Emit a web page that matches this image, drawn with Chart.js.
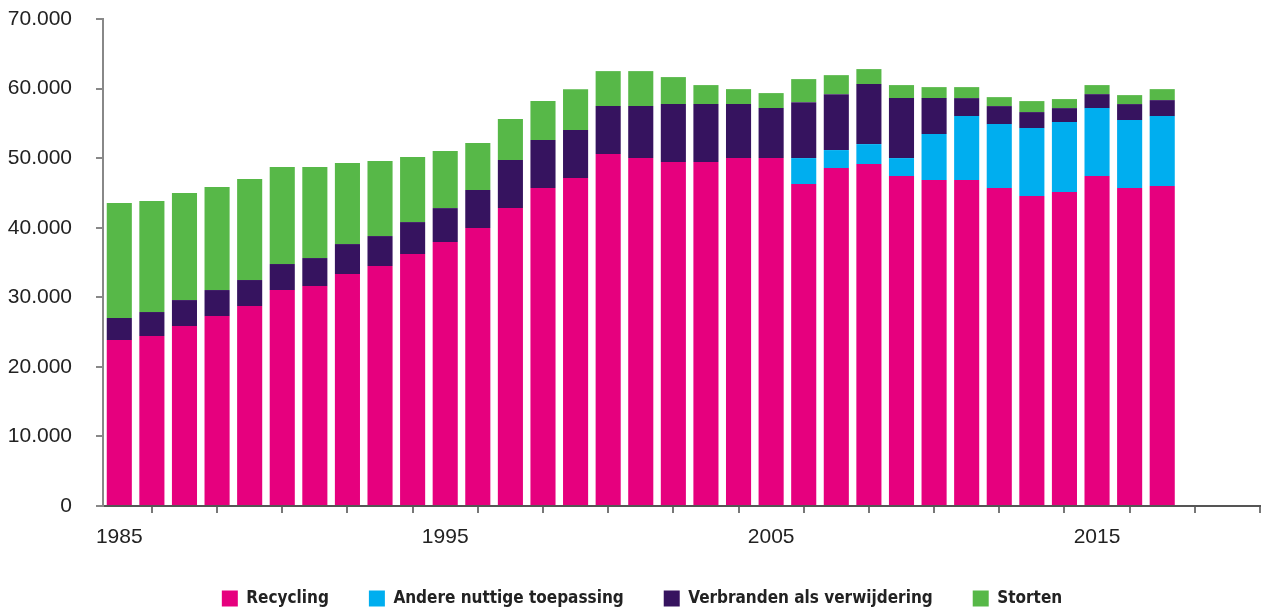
<!DOCTYPE html>
<html>
<head>
<meta charset="utf-8">
<script src="https://cdn.jsdelivr.net/npm/chart.js@4"></script>
<style>
  html, body { margin: 0; padding: 0; background: #fff; }
  #wrap { width: 1271px; height: 610px; }
</style>
</head>
<body>
<div id="wrap"><canvas id="afval"></canvas></div>
<script>
// afvalverwerking per jaar (x 1000 ton), gelezen uit de grafiek
const years = [1985, 1986, 1987, 1988, 1989, 1990, 1991, 1992, 1993, 1994, 1995,
  1996, 1997, 1998, 1999, 2000, 2001, 2002, 2003, 2004, 2005, 2006, 2007, 2008,
  2009, 2010, 2011, 2012, 2013, 2014, 2015, 2016, 2017];

const recycling = [23850, 24430, 25870, 27300, 28740, 31040, 31610, 33340, 34490, 36210, 37940,
  39950, 42820, 45700, 47130, 50580, 50010, 49430, 49430, 50010, 50010, 46270, 48570, 49150,
  47420, 46850, 46850, 45700, 44550, 45120, 47420, 45700, 45980];

const andereToepassing = [0, 0, 0, 0, 0, 0, 0, 0, 0, 0, 0,
  0, 0, 0, 0, 0, 0, 0, 0, 0, 0, 3740, 2590, 2870,
  2590, 6610, 9190, 9190, 9770, 10060, 9770, 9770, 10060];

const verbranden = [3170, 3450, 3730, 3740, 3740, 3740, 4030, 4310, 4310, 4600, 4880,
  5460, 6900, 6890, 6900, 6900, 7470, 8340, 8340, 7760, 7180, 8040, 8040, 8620,
  8620, 5170, 2590, 2590, 2300, 2010, 2010, 2300, 2300];

const storten = [16530, 15950, 15380, 14800, 14510, 13930, 13070, 11640, 10780, 9340, 8190,
  6750, 5890, 5610, 5890, 5030, 5030, 3880, 2730, 2150, 2160, 3310, 2730, 2160,
  1870, 1580, 1580, 1290, 1580, 1300, 1300, 1290, 1580];

const tickYears = [1985, 1987, 1989, 1991, 1993, 1995, 1997, 1999, 2001, 2003,
  2005, 2007, 2009, 2011, 2013, 2015, 2017, 2019];
const labelYears = [1985, 1995, 2005, 2015];
const yTicks = [0, 10000, 20000, 30000, 40000, 50000, 60000, 70000];

const axisFont = { family: "'Liberation Sans', Arial, sans-serif", size: 21 };
const legendFont = { family: "'Liberation Sans Narrow', 'DejaVu Sans Condensed', sans-serif", size: 17, weight: 'bold' };

function punt(v) {
  return String(v).replace(/\B(?=(\d{3})+(?!\d))/g, '.');
}

function serie(label, values, color) {
  return {
    label: label,
    data: years.map((y, i) => ({ x: y, y: values[i] })),
    backgroundColor: color,
    borderWidth: 0,
    barPercentage: 0.77,
    categoryPercentage: 1
  };
}

// legenda: vaste hoogte en iets naar rechts, zoals in het origineel
const legendPlek = {
  id: 'legendPlek',
  beforeLayout(chart) {
    const lg = chart.legend;
    if (lg && !lg._vast) {
      const orig = lg.fit.bind(lg);
      lg.fit = function () { orig(); this.height = 60; };
      lg._vast = true;
    }
  },
  afterLayout(chart) {
    chart.legend.left += 24;
  }
};

const ctx = document.getElementById('afval');
new Chart(ctx, {
  type: 'bar',
  data: {
    datasets: [
      serie('Recycling', recycling, '#E6007E'),
      serie('Andere nuttige toepassing', andereToepassing, '#00AEEF'),
      serie('Verbranden als verwijdering', verbranden, '#36135F'),
      serie('Storten', storten, '#57B848')
    ]
  },
  plugins: [legendPlek],
  options: {
    responsive: true,
    maintainAspectRatio: false,
    animation: false,
    layout: { padding: { top: 19, right: 11, left: 0, bottom: 0 } },
    plugins: {
      tooltip: { enabled: false },
      legend: {
        position: 'bottom',
        labels: {
          font: legendFont,
          color: '#222',
          boxWidth: 16,
          boxHeight: 16,
          padding: 40
        }
      }
    },
    scales: {
      x: {
        type: 'linear',
        stacked: true,
        offset: false,
        min: 1984.5,
        max: 2020,
        grid: { drawOnChartArea: false, tickLength: 7, color: '#777', lineWidth: 2 },
        border: { color: '#555', width: 2 },
        afterBuildTicks: (s) => { s.ticks = tickYears.map(v => ({ value: v })); },
        afterFit: (s) => { s.height = 44; s.paddingLeft = 0; s.paddingRight = 0; },
        ticks: {
          autoSkip: false,
          maxRotation: 0,
          padding: 12,
          font: axisFont,
          color: '#222',
          callback: (v) => labelYears.includes(v) ? String(v) : ''
        }
      },
      y: {
        stacked: true,
        min: 0,
        max: 70000,
        grid: { drawOnChartArea: false, tickLength: 7, color: '#888', lineWidth: 2 },
        border: { color: '#888', width: 2 },
        afterBuildTicks: (s) => { s.ticks = yTicks.map(v => ({ value: v })); },
        afterFit: (s) => { s.width = 103; s.paddingTop = 0; s.paddingBottom = 0; },
        ticks: {
          padding: 24,
          font: axisFont,
          color: '#222',
          callback: (v) => punt(v)
        }
      }
    }
  }
});
</script>
</body>
</html>
